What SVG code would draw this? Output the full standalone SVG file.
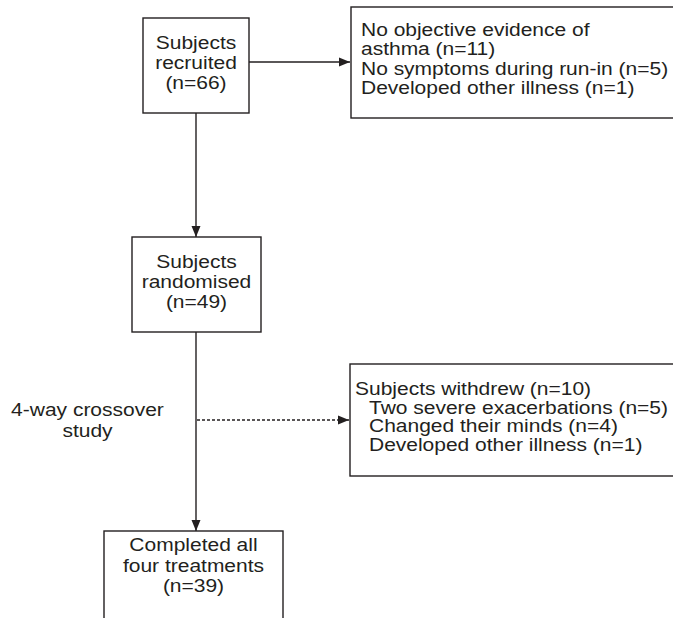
<svg xmlns="http://www.w3.org/2000/svg" width="673" height="618" viewBox="0 0 673 618">
<style>
.box{fill:#fff;stroke:#231f20;stroke-width:1.4}
.t{font-family:"Liberation Sans",Arial,sans-serif;font-size:18.5px;fill:#231f20;transform-box:fill-box;transform:scaleX(1.135);transform-origin:left center}
.c{text-anchor:middle;transform-origin:center}
.ln{stroke:#231f20;stroke-width:1.4;fill:none}
.dot{stroke:#231f20;stroke-width:1.6;fill:none;stroke-dasharray:3 2}
</style>
<defs>
<marker id="ah" markerWidth="12" markerHeight="10" refX="11" refY="5" orient="auto" markerUnits="userSpaceOnUse">
<path d="M0,0.5 L11,5 L0,9.5 Z" fill="#231f20"/>
</marker>
</defs>
<rect width="673" height="618" fill="#fff"/>
<g id="connectors">
<line class="ln" x1="249" y1="62" x2="350" y2="62" marker-end="url(#ah)"/>
<line class="ln" x1="196" y1="113" x2="196" y2="237" marker-end="url(#ah)"/>
<line class="ln" x1="196" y1="332" x2="196" y2="531" marker-end="url(#ah)"/>
<line class="dot" x1="197" y1="420" x2="349" y2="420" marker-end="url(#ah)"/>
</g>
<g id="recruited">
<rect class="box" x="143" y="18" width="106" height="95"/>
<text class="t c" x="196" y="49">Subjects</text>
<text class="t c" x="196" y="69">recruited</text>
<text class="t c" x="196" y="89">(n=66)</text>
</g>
<g id="excluded">
<rect class="box" x="351" y="7" width="340" height="111"/>
<text class="t" x="361" y="36">No objective evidence of</text>
<text class="t" x="361" y="55.5">asthma (n=11)</text>
<text class="t" x="361" y="75">No symptoms during run-in (n=5)</text>
<text class="t" x="361" y="94.5">Developed other illness (n=1)</text>
</g>
<g id="randomised">
<rect class="box" x="132" y="237" width="129" height="95"/>
<text class="t c" x="196.5" y="268">Subjects</text>
<text class="t c" x="196.5" y="288.5">randomised</text>
<text class="t c" x="196.5" y="308">(n=49)</text>
</g>
<g id="crossover">
<text class="t c" x="87.5" y="416">4-way crossover</text>
<text class="t c" x="87.5" y="437">study</text>
</g>
<g id="withdrew">
<rect class="box" x="350" y="364" width="340" height="112"/>
<text class="t" x="355" y="395.5">Subjects withdrew (n=10)</text>
<text class="t" x="369" y="414">Two severe exacerbations (n=5)</text>
<text class="t" x="369" y="432.5">Changed their minds (n=4)</text>
<text class="t" x="369" y="451">Developed other illness (n=1)</text>
</g>
<g id="completed">
<rect class="box" x="104" y="531" width="179" height="110"/>
<text class="t c" x="193.5" y="551">Completed all</text>
<text class="t c" x="193.5" y="572">four treatments</text>
<text class="t c" x="193.5" y="592">(n=39)</text>
</g>
</svg>
